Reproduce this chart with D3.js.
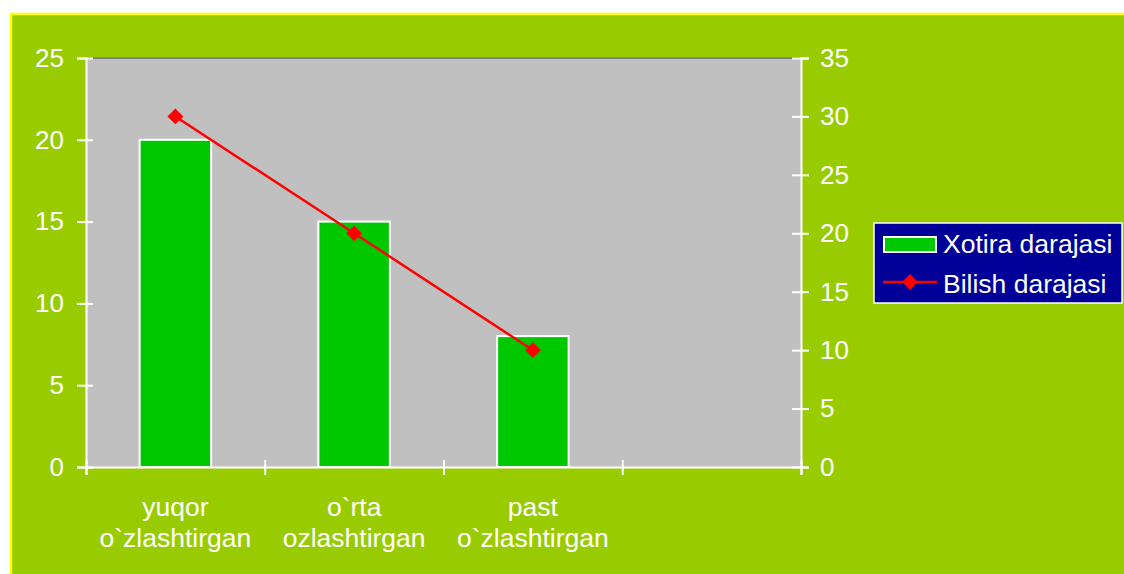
<!DOCTYPE html>
<html>
<head>
<meta charset="utf-8">
<script src="https://cdn.jsdelivr.net/npm/d3@7"></script>
<style>
  body { margin: 0; background: #fff; }
  text { font-family: "Liberation Sans", Arial, sans-serif; fill: #fff; }
</style>
</head>
<body>
<div class="chart"></div>
<script>
const WIDTH = 1124
const HEIGHT = 574

// data
const categories = ["yuqor\no`zlashtirgan", "o`rta\nozlashtirgan", "past\no`zlashtirgan", ""]
const xotira = [20, 15, 8, null]
const bilish = [30, 20, 10, null]
const leftTicks = [0, 5, 10, 15, 20, 25]
const rightTicks = [0, 5, 10, 15, 20, 25, 30, 35]
const seriesNames = ["Xotira darajasi", "Bilish darajasi"]

const plot = { left: 86, right: 801, top: 58, bottom: 467 }

const svg = d3.select(".chart")
  .append("svg")
  .attr("width", WIDTH)
  .attr("height", HEIGHT)

// outer green panel with yellow border
svg.append("rect")
  .attr("x", 11).attr("y", 14)
  .attr("width", WIDTH + 10).attr("height", HEIGHT + 10)
  .attr("fill", "#99cc00")
  .attr("stroke", "#ffff00")
  .attr("stroke-width", 2.5)

// plot area
svg.append("rect")
  .attr("x", plot.left).attr("y", plot.top)
  .attr("width", plot.right - plot.left).attr("height", plot.bottom - plot.top)
  .attr("fill", "#c0c0c0")
svg.append("line")
  .attr("x1", plot.left).attr("x2", plot.right)
  .attr("y1", plot.top).attr("y2", plot.top)
  .attr("stroke", "#808080").attr("stroke-width", 2)

const x = d3.scaleBand(d3.range(categories.length), [plot.left, plot.right]).padding(0)
const xEdge = d3.scaleLinear([0, categories.length], [plot.left, plot.right])
const yL = d3.scaleLinear([0, 25], [plot.bottom, plot.top])
const yR = d3.scaleLinear([0, 35], [plot.bottom, plot.top])

const barW = x.bandwidth() * 0.4

// bars
svg.append("g").selectAll("rect")
  .data(xotira.map((v, i) => ({ v, i })).filter(d => d.v != null))
  .join("rect")
    .attr("x", d => x(d.i) + x.bandwidth() / 2 - barW / 2)
    .attr("y", d => yL(d.v))
    .attr("width", barW)
    .attr("height", d => yL(0) - yL(d.v))
    .attr("fill", "#00c800")
    .attr("stroke", "#fff")
    .attr("stroke-width", 2)

// axes
function styleAxis(g) {
  g.select(".domain").attr("stroke", "#fff").attr("stroke-width", 2)
  g.selectAll(".tick line").attr("stroke", "#fff").attr("stroke-width", 2)
  g.selectAll(".tick text").attr("font-size", 26).attr("fill", "#fff")
}

const gL = svg.append("g")
  .attr("transform", `translate(${plot.left},0)`)
  .call(d3.axisLeft(yL).tickValues(leftTicks).tickSizeOuter(0).tickSize(9).tickPadding(13))
styleAxis(gL)
gL.selectAll(".tick line").attr("x2", 7).attr("x1", -9)

const gR = svg.append("g")
  .attr("transform", `translate(${plot.right},0)`)
  .call(d3.axisRight(yR).tickValues(rightTicks).tickSizeOuter(0).tickSize(8).tickPadding(11))
styleAxis(gR)
gR.selectAll(".tick line").attr("x1", -9).attr("x2", 8)

const gB = svg.append("g")
  .attr("transform", `translate(0,${plot.bottom})`)
  .call(d3.axisBottom(xEdge).tickValues(d3.range(categories.length + 1)).tickFormat("").tickSizeOuter(0).tickSize(8))
styleAxis(gB)
gB.selectAll(".tick line").attr("y1", -7).attr("y2", 8)

// category labels
const lab = svg.append("g").selectAll("text")
  .data(categories)
  .join("text")
    .attr("text-anchor", "middle")
    .attr("font-size", 26.5)
lab.selectAll("tspan")
  .data((d, i) => d.split("\n").map(s => ({ s, i })))
  .join("tspan")
    .attr("x", d => x(d.i) + x.bandwidth() / 2)
    .attr("y", (d, j) => 516 + j * 31)
    .text(d => d.s)

// line series (right axis)
const pts = bilish.map((v, i) => ({ v, i })).filter(d => d.v != null)
svg.append("path")
  .datum(pts)
  .attr("fill", "none")
  .attr("stroke", "#ff0000")
  .attr("stroke-width", 2.5)
  .attr("d", d3.line().x(d => x(d.i) + x.bandwidth() / 2).y(d => yR(d.v)))

const diamond = d3.symbol().type(d3.symbolSquare).size(125)
svg.append("g").selectAll("path")
  .data(pts)
  .join("path")
    .attr("d", diamond)
    .attr("transform", d => `translate(${x(d.i) + x.bandwidth() / 2},${yR(d.v)}) rotate(45)`)
    .attr("fill", "#ff0000")

// legend
const lg = svg.append("g")
lg.append("rect")
  .attr("x", 874).attr("y", 223).attr("width", 248).attr("height", 80)
  .attr("fill", "#000099").attr("stroke", "#fff").attr("stroke-width", 1.5)
lg.append("rect")
  .attr("x", 884).attr("y", 237).attr("width", 52).attr("height", 15)
  .attr("fill", "#00c800").attr("stroke", "#fff").attr("stroke-width", 2)
lg.append("line")
  .attr("x1", 883).attr("x2", 937).attr("y1", 282).attr("y2", 282)
  .attr("stroke", "#ff0000").attr("stroke-width", 2.5)
lg.append("path")
  .attr("d", diamond)
  .attr("transform", "translate(910,282) rotate(45)")
  .attr("fill", "#ff0000")
lg.selectAll("text.lg")
  .data(seriesNames)
  .join("text")
    .attr("class", "lg")
    .attr("x", 943)
    .attr("y", (d, i) => 253 + i * 40)
    .attr("font-size", 26.5)
    .text(d => d)
</script>
</body>
</html>
